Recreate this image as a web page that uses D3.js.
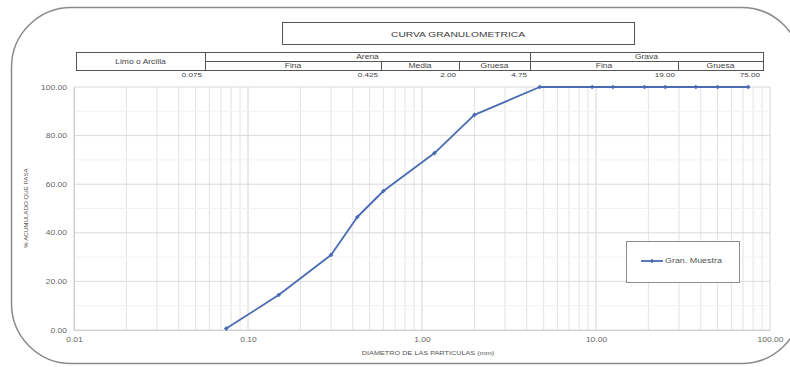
<!DOCTYPE html>
<html>
<head>
<meta charset="utf-8">
<script src="https://cdn.jsdelivr.net/npm/d3@7"></script>
<style>
  html, body { margin: 0; padding: 0; background: #fff; }
  svg { display: block; }
  text { font-family: "Liberation Sans", Arial, sans-serif; }
</style>
</head>
<body>
<script>
// Sieve analysis: particle diameter (mm) vs cumulative percent passing
const sieveSizes = [75, 50, 37.5, 25, 19, 12.5, 9.5, 4.75, 2.0, 1.18, 0.6, 0.425, 0.3, 0.15, 0.075];
const percentPassing = [100, 100, 100, 100, 100, 100, 100, 100, 88.5, 72.8, 57.2, 46.5, 30.9, 14.4, 0.6];

const xTicks = [0.01, 0.1, 1, 10, 100];
const yTicks = [0, 20, 40, 60, 80, 100];

// Soil classification header table
const soilTypes = ["Limo o Arcilla", "Arena", "Grava"];
const subTypes = ["Fina", "Media", "Gruesa", "Fina", "Gruesa"];
const boundaryLabels = ["0.075", "0.425", "2.00", "4.75", "19.00", "75.00"];

const chartTitle = "CURVA GRANULOMETRICA";
const xTitle = "DIAMETRO DE LAS PARTICULAS (mm)";
const yTitle = "% ACUMULADO QUE PASA";
const seriesName = "Gran. Muestra";

const W = 790, H = 367;
const SX = 1.35; // horizontal stretch applied to text
const lineColor = "#4a6bb3";

const svg = d3.select("body").append("svg")
  .attr("width", W).attr("height", H);

// chart area frame with rounded corners
svg.append("rect")
  .attr("x", 11.5).attr("y", 7.5).attr("width", 790).attr("height", 356)
  .attr("rx", 60).attr("ry", 60)
  .attr("fill", "#fff").attr("stroke", "#8a8a8a").attr("stroke-width", 1.5);

function label(g, x, y, str, opts = {}) {
  return g.append("text")
    .attr("transform", `translate(${x},${y}) scale(${opts.sx || SX},1)` + (opts.rotate ? ` rotate(${opts.rotate})` : ""))
    .attr("text-anchor", opts.anchor || "middle")
    .attr("dominant-baseline", "central")
    .attr("font-size", opts.size || 6.5)
    .attr("fill", opts.color || "#595959")
    .text(str);
}

const plot = { left: 74, right: 770, top: 87, bottom: 330 };
const x = d3.scaleLog().domain([0.01, 100]).range([plot.left, plot.right]);
const y = d3.scaleLinear().domain([0, 100]).range([plot.bottom, plot.top]);

// gridlines
const grid = svg.append("g");
const minorX = [];
xTicks.slice(0, -1).forEach(d => { for (let k = 2; k <= 9; k++) minorX.push(d * k); });
grid.selectAll(".vminor").data(minorX).join("line")
  .attr("x1", d => x(d)).attr("x2", d => x(d))
  .attr("y1", plot.top).attr("y2", plot.bottom)
  .attr("stroke", "#e3e3e3").attr("stroke-width", 1);
grid.selectAll(".vmajor").data(xTicks).join("line")
  .attr("x1", d => x(d)).attr("x2", d => x(d))
  .attr("y1", plot.top).attr("y2", plot.bottom)
  .attr("stroke", "#d4d4d4").attr("stroke-width", 1);
grid.selectAll(".hminor").data(d3.range(10, 100, 20)).join("line")
  .attr("x1", plot.left).attr("x2", plot.right)
  .attr("y1", d => y(d)).attr("y2", d => y(d))
  .attr("stroke", "#f2f2f2").attr("stroke-width", 1);
grid.selectAll(".hmajor").data(yTicks).join("line")
  .attr("x1", plot.left).attr("x2", plot.right)
  .attr("y1", d => y(d)).attr("y2", d => y(d))
  .attr("stroke", "#dadada").attr("stroke-width", 1);

// axes
const yAxis = svg.append("g").attr("transform", `translate(${plot.left},0)`)
  .call(d3.axisLeft(y).tickValues(yTicks).tickFormat(d3.format(".2f")).tickSize(0).tickPadding(6));
const xAxis = svg.append("g").attr("transform", `translate(0,${plot.bottom})`)
  .call(d3.axisBottom(x).tickValues(xTicks).tickFormat(d3.format(".2f")).tickSize(0).tickPadding(8));
[yAxis, xAxis].forEach(a => {
  a.select(".domain").attr("stroke", "#d0d0d0");
  a.selectAll("text").attr("font-size", 6.3).attr("fill", "#666")
    .attr("font-family", "Liberation Sans, Arial, sans-serif");
});
// stretch tick labels horizontally around their anchor
yAxis.selectAll(".tick text").attr("x", 0).attr("transform", `translate(-7,0) scale(${SX},1)`);
xAxis.selectAll(".tick text").attr("transform", `scale(${SX},1)`);

// axis titles
label(svg, 428, 353, xTitle, { size: 5.4, color: "#555" });
label(svg, 25, 208, yTitle, { size: 6.2, color: "#555", rotate: -90, sx: 1 });

// title box
svg.append("rect").attr("x", 282.5).attr("y", 22.5).attr("width", 352).attr("height", 22)
  .attr("fill", "#fff").attr("stroke", "#555").attr("stroke-width", 1);
label(svg, 458, 34, chartTitle, { size: 7.6, color: "#3a3a3a" });

// classification table
const tb = svg.append("g").attr("stroke", "#555").attr("stroke-width", 1).attr("fill", "none");
const colX = [76, 205, 381, 459, 530, 678, 763];
const rowY = [52.5, 61.5, 70.5];
tb.append("rect").attr("x", colX[0] + 0.5).attr("y", rowY[0]).attr("width", colX[6] - colX[0]).attr("height", rowY[2] - rowY[0]);
tb.append("line").attr("x1", colX[1]).attr("x2", colX[6]).attr("y1", rowY[1]).attr("y2", rowY[1]);
[colX[1], colX[4]].forEach(cx => tb.append("line").attr("x1", cx + 0.5).attr("x2", cx + 0.5).attr("y1", rowY[0]).attr("y2", rowY[2]));
[colX[2], colX[3], colX[5]].forEach(cx => tb.append("line").attr("x1", cx + 0.5).attr("x2", cx + 0.5).attr("y1", rowY[1]).attr("y2", rowY[2]));

const tt = svg.append("g");
label(tt, (colX[0] + colX[1]) / 2, 61.5, soilTypes[0], { size: 6.3, color: "#444" });
label(tt, (colX[1] + colX[4]) / 2, 57, soilTypes[1], { size: 6.3, color: "#444" });
label(tt, (colX[4] + colX[6]) / 2, 57, soilTypes[2], { size: 6.3, color: "#444" });
subTypes.forEach((s, i) => {
  label(tt, (colX[i + 1] + colX[i + 2]) / 2, 66, s, { size: 6.3, color: "#444" });
});
boundaryLabels.forEach((s, i) => {
  label(tt, colX[i + 1] - 3, 75.5, s, { size: 6, color: "#444", anchor: "end" });
});

// grading curve
const pts = sieveSizes.map((d, i) => ({ size: d, pass: percentPassing[i] }))
  .sort((a, b) => a.size - b.size);
svg.append("path").datum(pts)
  .attr("fill", "none").attr("stroke", lineColor).attr("stroke-width", 1.8)
  .attr("stroke-linejoin", "round")
  .attr("d", d3.line().x(d => x(d.size)).y(d => y(d.pass)));
const marker = d3.symbol().type(d3.symbolDiamond2).size(14);
svg.selectAll(".pt").data(pts).join("path")
  .attr("transform", d => `translate(${x(d.size)},${y(d.pass)})`)
  .attr("d", marker).attr("fill", lineColor);

// legend
const lg = svg.append("g");
lg.append("rect").attr("x", 626.5).attr("y", 241.5).attr("width", 113).attr("height", 41)
  .attr("fill", "#fff").attr("stroke", "#8c8c8c").attr("stroke-width", 1);
lg.append("line").attr("x1", 641).attr("x2", 663).attr("y1", 261).attr("y2", 261)
  .attr("stroke", lineColor).attr("stroke-width", 1.8);
lg.append("path").attr("transform", "translate(652,261)").attr("d", marker).attr("fill", lineColor);
label(lg, 665, 261, seriesName, { size: 6.6, color: "#555", anchor: "start" });
</script>
</body>
</html>
